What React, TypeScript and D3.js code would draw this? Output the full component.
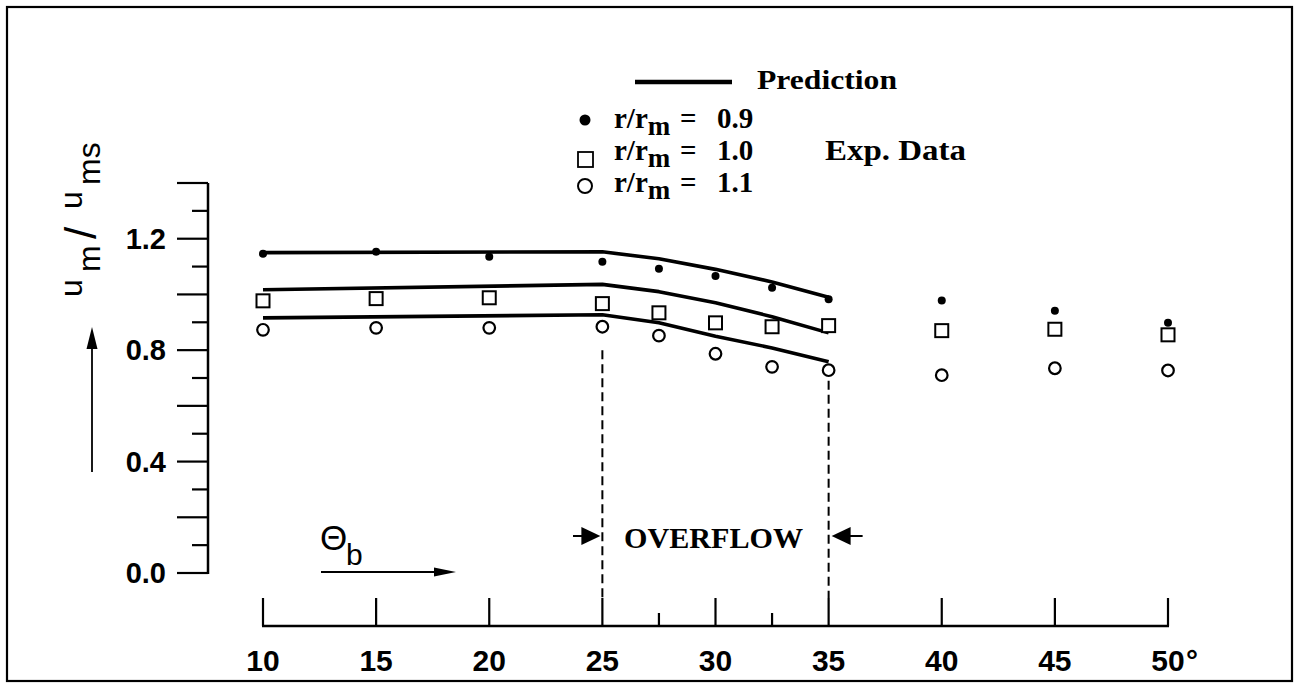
import * as d3 from 'd3'

// bend angle (deg) at which the data were taken
const thetas = [10, 15, 20, 25, 27.5, 30, 32.5, 35, 40, 45, 50]
// exp. data, u_m / u_ms
const r09 = [1.146, 1.153, 1.135, 1.117, 1.092, 1.066, 1.024, 0.983, 0.978, 0.941, 0.898]
const r10 = [0.977, 0.985, 0.988, 0.967, 0.934, 0.898, 0.884, 0.888, 0.87, 0.875, 0.855]
const r11 = [0.873, 0.88, 0.88, 0.884, 0.852, 0.787, 0.74, 0.728, 0.71, 0.735, 0.727]

// prediction curves
const predTheta = [10, 25, 27.5, 30, 32.5, 35]
const pred09 = [1.15, 1.153, 1.128, 1.09, 1.045, 0.99]
const pred10 = [1.017, 1.036, 1.01, 0.97, 0.92, 0.862]
const pred11 = [0.916, 0.927, 0.898, 0.85, 0.808, 0.758]

const xTicks = [10, 15, 20, 25, 30, 35, 40, 45, 50]
const xMinorTicks = [27.5, 32.5]
const xTickLabels = ['10', '15', '20', '25', '30', '35', '40', '45', '50']
const yTicks = [0, 0.1, 0.2, 0.3, 0.4, 0.5, 0.6, 0.7, 0.8, 0.9, 1.0, 1.1, 1.2, 1.3, 1.4]
const yTickLabels = ['0.0', '0.4', '0.8', '1.2']
const yLabelValues = [0, 0.4, 0.8, 1.2]
const overflow = [25, 35]
const dashStart = [0.8, 0.69]

const legendRows = ['0.9', '1.0', '1.1']

const W = 1294
const H = 683
const axisY = 626
const axisX = 208
const SANS = 'Liberation Sans, Arial, sans-serif'
const SERIF = 'Liberation Serif, Times New Roman, serif'

export default function App() {
	const x = d3.scaleLinear().domain([10, 50]).range([263, 1168])
	const y = d3.scaleLinear().domain([0, 1.4]).range([573, 183])

	const line = d3
		.line<[number, number]>()
		.x((d) => x(d[0]))
		.y((d) => y(d[1]))

	const preds = [pred09, pred10, pred11].map((p) => line(predTheta.map((t, i) => [t, p[i]]) as [number, number][]))

	const sq = 13
	const arrowY = 536

	return (
		<svg
			width={W}
			height={H}
			style={{ position: 'absolute', left: 0, top: 0, display: 'block', background: '#fff' }}
		>
			<rect x={7} y={7} width={1285} height={674} fill="none" stroke="#000" strokeWidth={2.2} />

			{/* y axis */}
			<line x1={axisX} x2={axisX} y1={y(1.4)} y2={y(0) + 1} stroke="#000" strokeWidth={2.5} />
			{yTicks.map((v, i) => (
				<line
					key={'yt' + i}
					x1={i % 2 === 0 ? axisX - 31 : axisX - 16}
					x2={axisX}
					y1={y(v)}
					y2={y(v)}
					stroke="#000"
					strokeWidth={2.2}
				/>
			))}
			{yLabelValues.map((v, i) => (
				<text
					key={'yl' + i}
					x={166}
					y={y(v) + 10}
					textAnchor="end"
					fontFamily={SANS}
					fontWeight="bold"
					fontSize={29}
				>
					{yTickLabels[i]}
				</text>
			))}

			{/* y label */}
			<g transform="translate(82,297) rotate(-90)" fontFamily={SANS} fontSize={32}>
				<text x={0} y={0}>u</text>
				<text x={25} y={18}>m</text>
				<text x={58} y={14} fontSize={44}>/</text>
				<text x={88} y={0}>u</text>
				<text x={112} y={18}>ms</text>
			</g>
			<line x1={92} x2={92} y1={472} y2={345} stroke="#000" strokeWidth={1.8} />
			<path d="M92,327 L86.5,349 L97.5,349 Z" fill="#000" />

			{/* x axis */}
			<line x1={x(10) - 1} x2={x(50) + 1} y1={axisY} y2={axisY} stroke="#000" strokeWidth={2.5} />
			{xTicks.map((t, i) => (
				<line key={'xt' + i} x1={x(t)} x2={x(t)} y1={axisY} y2={axisY - 28} stroke="#000" strokeWidth={2.2} />
			))}
			{xMinorTicks.map((t, i) => (
				<line key={'xm' + i} x1={x(t)} x2={x(t)} y1={axisY} y2={axisY - 13} stroke="#000" strokeWidth={2.2} />
			))}
			{xTicks.map((t, i) => (
				<text
					key={'xl' + i}
					x={x(t)}
					y={671}
					textAnchor="middle"
					fontFamily={SANS}
					fontWeight="bold"
					fontSize={30}
				>
					{xTickLabels[i]}
				</text>
			))}
			<text x={x(50) + 18} y={671} fontFamily={SANS} fontWeight="bold" fontSize={30}>
				°
			</text>

			{/* theta_b */}
			<text x={320} y={550} fontFamily={SANS} fontSize={35}>
				Θ
			</text>
			<text x={346} y={565} fontFamily={SANS} fontSize={30}>
				b
			</text>
			<line x1={321} x2={438} y1={572} y2={572} stroke="#000" strokeWidth={1.8} />
			<path d="M456,572 L434,567.5 L434,576.5 Z" fill="#000" />

			{/* overflow region */}
			{overflow.map((t, i) => (
				<line
					key={'ov' + i}
					x1={x(t)}
					x2={x(t)}
					y1={y(dashStart[i])}
					y2={axisY - 28}
					stroke="#000"
					strokeWidth={2}
					strokeDasharray="9,5"
				/>
			))}
			<line x1={573} x2={590} y1={arrowY} y2={arrowY} stroke="#000" strokeWidth={2} />
			<path d={`M${x(25) - 2},${arrowY} L${x(25) - 21},${arrowY - 9} L${x(25) - 21},${arrowY + 9} Z`} fill="#000" />
			<line x1={x(35) + 18} x2={x(35) + 34} y1={arrowY} y2={arrowY} stroke="#000" strokeWidth={2} />
			<path d={`M${x(35) + 3},${arrowY} L${x(35) + 22},${arrowY - 9} L${x(35) + 22},${arrowY + 9} Z`} fill="#000" />
			<text x={624} y={548} fontFamily={SERIF} fontWeight="bold" fontSize={30} textLength={179} lengthAdjust="spacingAndGlyphs">
				OVERFLOW
			</text>

			{/* prediction lines */}
			{preds.map((d, i) => (
				<path key={'p' + i} d={d ?? ''} fill="none" stroke="#000" strokeWidth={3.6} strokeLinejoin="round" />
			))}

			{/* data */}
			{thetas.map((t, i) => (
				<circle key={'a' + i} cx={x(t)} cy={y(r09[i])} r={4} fill="#000" />
			))}
			{thetas.map((t, i) => (
				<rect
					key={'b' + i}
					x={x(t) - sq / 2}
					y={y(r10[i]) - sq / 2}
					width={sq}
					height={sq}
					fill="#fff"
					stroke="#000"
					strokeWidth={2}
				/>
			))}
			{thetas.map((t, i) => (
				<circle key={'c' + i} cx={x(t)} cy={y(r11[i])} r={5.8} fill="#fff" stroke="#000" strokeWidth={2.2} />
			))}

			{/* legend */}
			<line x1={635} x2={732} y1={82} y2={82} stroke="#000" strokeWidth={4.5} />
			<text x={757} y={89} fontFamily={SERIF} fontWeight="bold" fontSize={28} textLength={140} lengthAdjust="spacingAndGlyphs">
				Prediction
			</text>
			<circle cx={585} cy={120} r={5.5} fill="#000" />
			<rect x={578} y={152} width={15} height={15} fill="#fff" stroke="#000" strokeWidth={1.8} />
			<circle cx={585} cy={186} r={7} fill="#fff" stroke="#000" strokeWidth={2} />
			{legendRows.map((v, i) => (
				<g key={'lg' + i} fontFamily={SERIF} fontWeight="bold" fontSize={29}>
					<text x={614} y={128 + i * 32}>
						r/r
						<tspan dy={7} fontSize={27}>
							m
						</tspan>
					</text>
					<text x={680} y={128 + i * 32}>
						=
					</text>
					<text x={717} y={128 + i * 32}>
						{v}
					</text>
				</g>
			))}
			<text x={825} y={160} fontFamily={SERIF} fontWeight="bold" fontSize={29} textLength={141} lengthAdjust="spacingAndGlyphs">
				Exp. Data
			</text>
		</svg>
	)
}
